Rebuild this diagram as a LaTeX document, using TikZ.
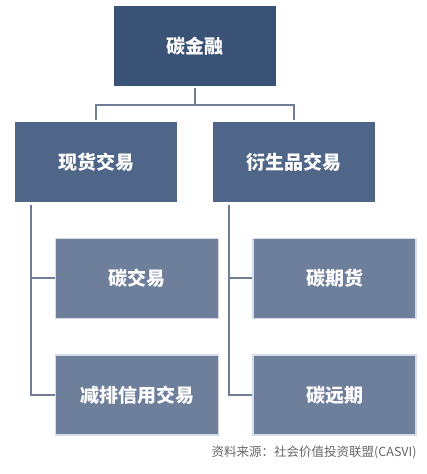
\documentclass[tikz,border=0pt]{standalone}
\usepackage{fontspec}
\setmainfont{Noto Sans CJK SC}
\usepackage{xcolor}
\usepackage{tikz}
\usetikzlibrary{positioning,calc}
\definecolor{rootblue}{HTML}{3A5276}
\definecolor{midblue}{HTML}{506688}
\definecolor{leafblue}{HTML}{6E7F9C}
\definecolor{leafedge}{HTML}{D6DCE6}
\definecolor{linkgray}{HTML}{6F7D96}
\definecolor{notegray}{HTML}{666666}
\tikzset{
    box/.style={rectangle, minimum width=162pt, minimum height=80pt, align=center, inner sep=0pt, text=white, font=\fontsize{19}{23}\selectfont\bfseries},
    leafbox/.style={box, fill=leafblue, draw=leafedge, line width=1.5pt, minimum width=163pt},
    link/.style={draw=linkgray, line width=2pt},
    source/.style={font=\fontsize{12.5}{15}\selectfont, text=notegray, inner sep=0pt}
}

\begin{document}
\begin{tikzpicture}
\useasboundingbox (0,0) rectangle (427pt,-474pt);

% ── Root ──
\node[box, fill=rootblue] (carbon) at (195pt,-46pt) {碳金融};

% ── Second level ──
\node[box, fill=midblue, below=36pt of carbon, xshift=-99pt] (spot) {现货交易};
\node[box, fill=midblue, below=36pt of carbon, xshift=99pt] (deriv) {衍生品交易};

% ── Leaves ──
\node[leafbox, below=35pt of spot, xshift=41pt] (trade) {碳交易};
\node[leafbox, below=35pt of trade] (credit) {减排信用交易};
\node[leafbox, below=35pt of deriv, xshift=40.5pt] (futures) {碳期货};
\node[leafbox, below=35pt of futures] (forward) {碳远期};

% ── Source note ──
\node[source, below=10pt of forward.south east, anchor=north east] (note) {资料来源：社会价值投资联盟(CASVI)};

% ── Links ──
\draw[link] ([yshift=-2pt]carbon.south) -- ++(0,-17pt) -| ([yshift=2pt]spot.north);
\draw[link] ([yshift=-2pt]carbon.south) -- ++(0,-17pt) -| ([yshift=2pt]deriv.north);
\draw[link] ([xshift=16pt,yshift=-2pt]spot.south west) |- (trade.west);
\draw[link] ([xshift=16pt,yshift=-2pt]spot.south west) |- (credit.west);
\draw[link] ([xshift=16pt,yshift=-2pt]deriv.south west) |- (futures.west);
\draw[link] ([xshift=16pt,yshift=-2pt]deriv.south west) |- (forward.west);

\end{tikzpicture}
\end{document}
